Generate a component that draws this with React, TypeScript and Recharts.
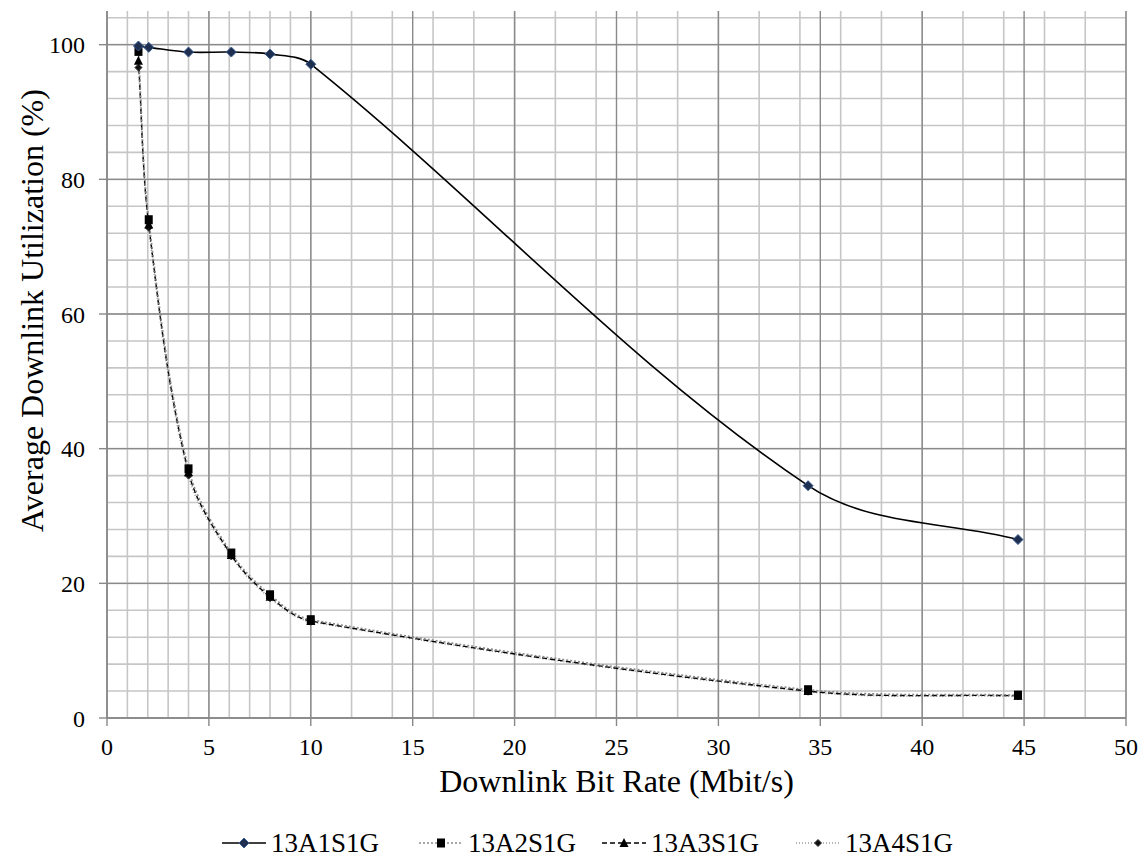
import React from "react";
import { LineChart, Line, XAxis, YAxis, CartesianGrid, Label } from "recharts";

// downlink bit rates (Mbit/s) used in the test runs
const bitRates = [1.544, 2.048, 4, 6.1, 8, 10, 34.4, 44.7];

// average downlink utilization (%) per configuration
const util13A1S1G = [99.8, 99.6, 98.9, 98.9, 98.6, 97.1, 34.5, 26.5];
const util13A2S1G = [99.0, 74.0, 37.0, 24.5, 18.3, 14.6, 4.2, 3.4];
const util13A3S1G = [97.6, 73.3, 36.5, 24.2, 18.0, 14.4, 4.0, 3.3];
const util13A4S1G = [96.6, 72.8, 36.0, 24.0, 17.8, 14.3, 3.9, 3.2];

const xTicks = [0, 5, 10, 15, 20, 25, 30, 35, 40, 45, 50];
const yTicks = [0, 20, 40, 60, 80, 100];
const xMinorTicks = Array.from({ length: 51 }, (_, i) => i);
const yMinorTicks = Array.from({ length: 27 }, (_, i) => i * 4);

const seriesNames = ["13A1S1G", "13A2S1G", "13A3S1G", "13A4S1G"];

const data = bitRates.map((rate, i) => ({
    rate,
    a1: util13A1S1G[i],
    a2: util13A2S1G[i],
    a3: util13A3S1G[i],
    a4: util13A4S1G[i],
}));

const FONT = "'Liberation Serif', 'Times New Roman', serif";

// Excel-like smoothed line: bezier with handles along the neighbour chord
const excelSmooth = (context: any) => {
    let pts: number[][] = [];
    const dir = (a: number[], b: number[]) => {
        const dx = b[0] - a[0];
        const dy = b[1] - a[1];
        const len = Math.hypot(dx, dy) || 1;
        return [dx / len, dy / len];
    };
    return {
        areaStart() {},
        areaEnd() {},
        lineStart() {
            pts = [];
        },
        point(x: number, y: number) {
            pts.push([x, y]);
        },
        lineEnd() {
            if (!pts.length) return;
            context.moveTo(pts[0][0], pts[0][1]);
            const n = pts.length;
            const tan = pts.map((p, i) => dir(pts[Math.max(0, i - 1)], pts[Math.min(n - 1, i + 1)]));
            for (let i = 0; i < n - 1; i++) {
                const p1 = pts[i];
                const p2 = pts[i + 1];
                const h = Math.hypot(p2[0] - p1[0], p2[1] - p1[1]) / 3;
                context.bezierCurveTo(
                    p1[0] + tan[i][0] * h,
                    p1[1] + tan[i][1] * h,
                    p2[0] - tan[i + 1][0] * h,
                    p2[1] - tan[i + 1][1] * h,
                    p2[0],
                    p2[1]
                );
            }
        },
    };
};

const Diamond = ({ cx, cy, r, fill, stroke }: any) => (
    <polygon
        points={`${cx},${cy - r} ${cx + r},${cy} ${cx},${cy + r} ${cx - r},${cy}`}
        fill={fill}
        stroke={stroke}
        strokeWidth={1}
    />
);

const DiamondDot = (props: any) => (
    <Diamond key={`dia-${props.index}`} cx={props.cx} cy={props.cy} r={5} fill="#1f2f4f" stroke="#3b5d92" />
);

const SmallDot = (props: any) => (
    <Diamond key={`sd-${props.index}`} cx={props.cx} cy={props.cy} r={3.5} fill="#111" stroke="#333" />
);

const SquareDot = (props: any) => {
    const { cx, cy, index } = props;
    return <rect key={`sq-${index}`} x={cx - 4} y={cy - 4.5} width={8} height={9} fill="#000" />;
};

const TriangleDot = (props: any) => {
    const { cx, cy, index } = props;
    return (
        <polygon
            key={`tri-${index}`}
            points={`${cx},${cy - 5} ${cx + 4.5},${cy + 4} ${cx - 4.5},${cy + 4}`}
            fill="#000"
        />
    );
};

const legendItems = [
    { name: seriesNames[0], stroke: "#000", dash: undefined, Dot: DiamondDot, left: 222 },
    { name: seriesNames[1], stroke: "#8a8a8a", dash: "2 2", Dot: SquareDot, left: 419 },
    { name: seriesNames[2], stroke: "#000", dash: "5 3", Dot: TriangleDot, left: 602 },
    { name: seriesNames[3], stroke: "#9a9a9a", dash: "1 2", Dot: SmallDot, left: 796 },
];

function ChartLegend() {
    return (
        <div style={{ position: "absolute", top: 828, left: 0, fontFamily: FONT, fontSize: 27, color: "#000" }}>
            {legendItems.map((item) => (
                <div
                    key={item.name}
                    style={{ position: "absolute", left: item.left, top: 0, display: "flex", alignItems: "center", whiteSpace: "nowrap" }}
                >
                    <svg width={44} height={20}>
                        <line x1={0} y1={10} x2={44} y2={10} stroke={item.stroke} strokeWidth={1.6} strokeDasharray={item.dash} />
                        <item.Dot cx={22} cy={10} index={0} />
                    </svg>
                    <span style={{ marginLeft: 5, lineHeight: "30px" }}>{item.name}</span>
                </div>
            ))}
        </div>
    );
}

const tickStyle = { fill: "#000", fontSize: 24, fontFamily: FONT };

export default function App() {
    return (
        <div
            style={{
                position: "absolute",
                left: 0,
                top: 0,
                width: 1141,
                height: 856,
                background: "#fff",
                fontFamily: FONT,
            }}
        >
            <LineChart
                width={1141}
                height={856}
                data={data}
                margin={{ top: 11, right: 15, left: 0, bottom: 58 }}
                style={{ fontFamily: FONT }}
            >
                <CartesianGrid stroke="#c6c6c6" strokeWidth={1.6} horizontalValues={yMinorTicks} verticalValues={xMinorTicks} />
                <CartesianGrid stroke="#8a8a8a" strokeWidth={1.4} horizontalValues={yTicks} verticalValues={xTicks} />
                <XAxis
                    dataKey="rate"
                    type="number"
                    domain={[0, 50]}
                    ticks={xTicks}
                    height={80}
                    tickSize={8}
                    tickMargin={12}
                    stroke="#888"
                    strokeWidth={1.4}
                    tick={tickStyle}
                >
                    <Label
                        value="Downlink Bit Rate (Mbit/s)"
                        position="insideBottom"
                        offset={6}
                        style={{ fontSize: 32, fontFamily: FONT, fill: "#000" }}
                    />
                </XAxis>
                <YAxis
                    type="number"
                    domain={[0, 105]}
                    ticks={yTicks}
                    width={107}
                    tickSize={8}
                    tickMargin={14}
                    stroke="#888"
                    strokeWidth={1.4}
                    tick={tickStyle}
                >
                    <Label
                        content={({ viewBox }: any) => (
                            <text
                                x={viewBox.x + 43}
                                y={viewBox.y + viewBox.height / 2 - 54}
                                transform={`rotate(-90, ${viewBox.x + 43}, ${viewBox.y + viewBox.height / 2 - 54})`}
                                textAnchor="middle"
                                fontSize={32}
                                fontFamily={FONT}
                                fill="#000"
                            >
                                Average Downlink Utilization (%)
                            </text>
                        )}
                    />
                </YAxis>
                <Line
                    dataKey="a4"
                    name={seriesNames[3]}
                    type={excelSmooth as any}
                    stroke="#9a9a9a"
                    strokeWidth={1.6}
                    strokeDasharray="1 2"
                    dot={SmallDot}
                    isAnimationActive={false}
                />
                <Line
                    dataKey="a3"
                    name={seriesNames[2]}
                    type={excelSmooth as any}
                    stroke="#000"
                    strokeWidth={1.4}
                    strokeDasharray="5 3"
                    dot={TriangleDot}
                    isAnimationActive={false}
                />
                <Line
                    dataKey="a2"
                    name={seriesNames[1]}
                    type={excelSmooth as any}
                    stroke="#8a8a8a"
                    strokeWidth={1.6}
                    strokeDasharray="2 2"
                    dot={SquareDot}
                    isAnimationActive={false}
                />
                <Line
                    dataKey="a1"
                    name={seriesNames[0]}
                    type={excelSmooth as any}
                    stroke="#000"
                    strokeWidth={1.6}
                    dot={DiamondDot}
                    isAnimationActive={false}
                />
            </LineChart>
            <ChartLegend />
        </div>
    );
}
